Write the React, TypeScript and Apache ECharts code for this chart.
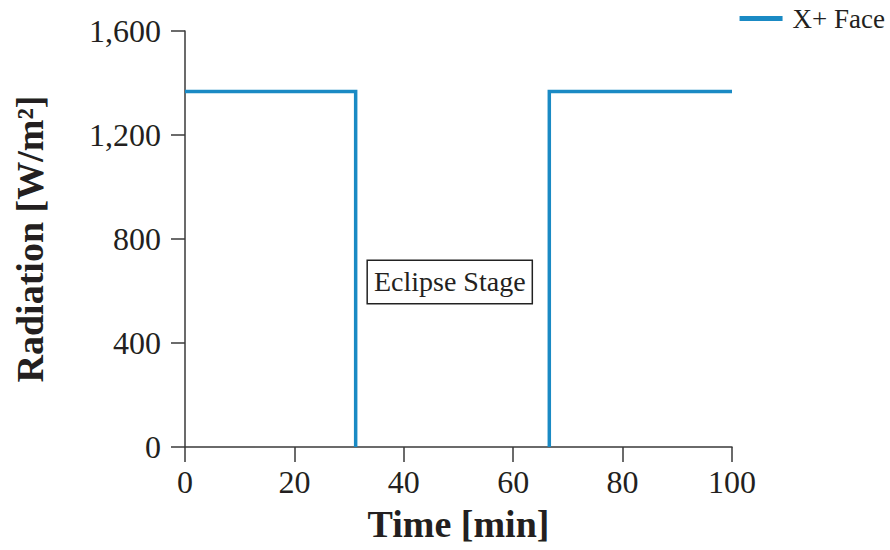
import React, { useEffect, useRef } from "react";
import * as echarts from "echarts";

const timeMin: (number | string)[] = [0, 31.2, 31.2, 50, 66.6, 66.6, 100];
const radiation: (number | string)[] = [1367, 1367, 0, "-", 0, 1367, 1367];
const xTicks = [0, 20, 40, 60, 80, 100];
const yTicks = [0, 400, 800, 1200, 1600];
const seriesName = "X+ Face";
const annotation = { text: "Eclipse Stage", x: 48.4, y: 635 };

const FONT = "'Liberation Serif', 'DejaVu Serif', serif";
const TEXT = "#231f20";
const BLUE = "#1a8ac4";

export default function App() {
  const ref = useRef<HTMLDivElement>(null);
  useEffect(() => {
    if (!ref.current) return;
    const chart = echarts.init(ref.current, undefined, { renderer: "svg" });
    const data = timeMin.map((t, i) => [t, radiation[i]]);
    chart.setOption({
      animation: false,
      textStyle: { fontFamily: FONT, color: TEXT },
      legend: {
        right: 0,
        top: 0,
        itemWidth: 43,
        itemHeight: 5,
        itemGap: 10,
        textStyle: { fontFamily: FONT, fontSize: 27, color: TEXT, padding: [0, 0, 0, 5] },
        data: [{ name: seriesName, icon: "rect" }],
        itemStyle: { color: BLUE },
      },
      grid: {
        left: 185,
        right: 158,
        top: 31,
        bottom: 103,
        containLabel: false,
        outerBoundsMode: "none",
      },
      xAxis: {
        type: "value",
        min: xTicks[0],
        max: xTicks[xTicks.length - 1],
        interval: 20,
        name: "Time [min]",
        nameLocation: "middle",
        nameGap: 58,
        nameTextStyle: { fontFamily: FONT, fontSize: 38, fontWeight: "bold", color: TEXT },
        axisLine: { show: true, lineStyle: { color: "#3a3a3a", width: 1.5 } },
        axisTick: { show: true, length: 15, lineStyle: { color: "#3a3a3a", width: 1.5 } },
        axisLabel: { fontFamily: FONT, fontSize: 32, color: TEXT, margin: 19 },
        splitLine: { show: false },
      },
      yAxis: {
        type: "value",
        min: yTicks[0],
        max: yTicks[yTicks.length - 1],
        interval: 400,
        name: "Radiation [W/m²]",
        nameLocation: "middle",
        nameGap: 136,
        nameTextStyle: { fontFamily: FONT, fontSize: 38, fontWeight: "bold", color: TEXT },
        axisLine: { show: true, lineStyle: { color: "#3a3a3a", width: 1.5 } },
        axisTick: { show: true, length: 14, lineStyle: { color: "#3a3a3a", width: 1.5 } },
        axisLabel: {
          fontFamily: FONT,
          fontSize: 32,
          color: TEXT,
          margin: 24,
          formatter: (v: number) => v.toLocaleString("en-US"),
        },
        splitLine: { show: false },
      },
      series: [
        {
          name: seriesName,
          type: "line",
          data,
          showSymbol: false,
          symbol: "none",
          connectNulls: false,
          lineStyle: { color: BLUE, width: 3.5, join: "miter" },
          itemStyle: { color: BLUE },
          markPoint: {
            symbol: "rect",
            symbolSize: 0,
            data: [{ coord: [annotation.x, annotation.y], value: annotation.text }],
            label: {
              show: true,
              position: "inside",
              formatter: annotation.text,
              fontFamily: FONT,
              fontSize: 28,
              color: TEXT,
              backgroundColor: "#fff",
              borderColor: "#222",
              borderWidth: 1.5,
              padding: [7, 6, 7, 6],
            },
          },
        },
      ],
    });
    return () => chart.dispose();
  }, []);
  return <div ref={ref} style={{ width: 890, height: 550, position: "absolute", left: 0, top: 0 }} />;
}
